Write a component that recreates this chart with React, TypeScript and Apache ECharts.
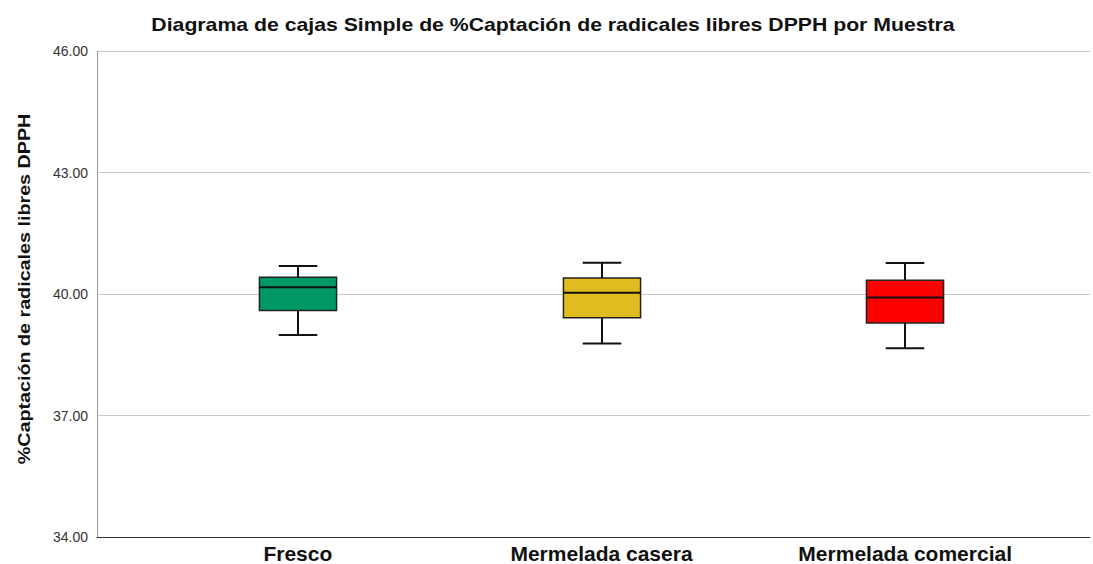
import React, { useEffect, useRef } from 'react';
import * as echarts from 'echarts';

const categories = ['Fresco', 'Mermelada casera', 'Mermelada comercial'];
const minValues = [38.93, 38.72, 38.6];
const q1Values = [39.54, 39.36, 39.23];
const medianValues = [40.12, 39.98, 39.86];
const q3Values = [40.37, 40.35, 40.29];
const maxValues = [40.65, 40.73, 40.72];
const boxColors = ['#009966', '#e0bc1f', '#ff0000'];
const yMin = 34;
const yMax = 46;
const yInterval = 3;
const titleText = 'Diagrama de cajas Simple de %Captación de radicales libres DPPH por Muestra';
const yAxisTitle = '%Captación de radicales libres DPPH';

const FONT = '"Liberation Sans", Arial, sans-serif';

export default function App() {
  const ref = useRef<HTMLDivElement>(null);
  useEffect(() => {
    if (!ref.current) return;
    const chart = echarts.init(ref.current, null, { renderer: 'svg' });
    const data = categories.map((_, i) => [i, minValues[i], q1Values[i], medianValues[i], q3Values[i], maxValues[i]]);
    chart.setOption({
      animation: false,
      backgroundColor: '#ffffff',
      textStyle: { fontFamily: FONT },
      graphic: [
        {
          type: 'text',
          x: 553,
          y: 25,
          scaleX: 1.18,
          style: {
            text: titleText,
            fontFamily: FONT,
            fontSize: 18,
            fontWeight: 'bold',
            fill: '#111',
            align: 'center',
            verticalAlign: 'middle',
          },
        },
        {
          type: 'text',
          x: 24,
          y: 289,
          rotation: Math.PI / 2,
          scaleX: 1.16,
          style: {
            text: yAxisTitle,
            fontFamily: FONT,
            fontSize: 17,
            fontWeight: 'bold',
            fill: '#111',
            align: 'center',
            verticalAlign: 'middle',
          },
        },
      ],
      grid: [
        { left: 97, right: 3, top: 51, bottom: 27 },
        { left: 146, width: 911, top: 51, bottom: 27 },
      ],
      xAxis: [
        {
          type: 'value', gridIndex: 0, min: 0, max: 1,
          axisLine: { show: true, lineStyle: { color: '#333', width: 1 } },
          axisLabel: { show: false }, axisTick: { show: false }, splitLine: { show: false },
        },
        {
          type: 'category', gridIndex: 1, data: categories,
          axisLine: { show: false }, axisTick: { show: false },
          axisLabel: { fontFamily: FONT, fontSize: 21, fontWeight: 'bold', color: '#111', margin: 10 },
        },
      ],
      yAxis: [
        {
          type: 'value', gridIndex: 0, min: yMin, max: yMax, interval: yInterval,
          axisLine: { show: true, lineStyle: { color: '#999', width: 1 } },
          axisTick: { show: false },
          axisLabel: { formatter: (v: number) => v.toFixed(2), fontFamily: FONT, fontSize: 14, color: '#333', margin: 9 },
          splitLine: { show: true, lineStyle: { color: '#c8c8c8', width: 1 } },
        },
        {
          type: 'value', gridIndex: 1, min: yMin, max: yMax, interval: yInterval,
          show: false, splitLine: { show: false },
        },
      ],
      series: [
        {
          type: 'custom',
          xAxisIndex: 1,
          yAxisIndex: 1,
          data,
          renderItem: (params: any, api: any) => {
            const x = api.value(0);
            const lo = api.coord([x, api.value(1)]);
            const q1 = api.coord([x, api.value(2)]);
            const med = api.coord([x, api.value(3)]);
            const q3 = api.coord([x, api.value(4)]);
            const hi = api.coord([x, api.value(5)]);
            const band = api.size([1, 0])[0];
            const bw = band * 0.254;
            const cw = bw / 2;
            const cx = Math.round(lo[0]);
            const color = boxColors[params.dataIndex];
            const lineStyle = { stroke: '#111', lineWidth: 2 };
            return {
              type: 'group',
              children: [
                { type: 'line', shape: { x1: cx, y1: hi[1], x2: cx, y2: q3[1] }, style: lineStyle },
                { type: 'line', shape: { x1: cx, y1: q1[1], x2: cx, y2: lo[1] }, style: lineStyle },
                { type: 'line', shape: { x1: cx - cw / 2, y1: hi[1], x2: cx + cw / 2, y2: hi[1] }, style: lineStyle },
                { type: 'line', shape: { x1: cx - cw / 2, y1: lo[1], x2: cx + cw / 2, y2: lo[1] }, style: lineStyle },
                {
                  type: 'rect',
                  shape: { x: cx - bw / 2, y: q3[1], width: bw, height: q1[1] - q3[1] },
                  style: { fill: color, stroke: '#222', lineWidth: 1.5 },
                },
                { type: 'line', shape: { x1: cx - bw / 2, y1: med[1], x2: cx + bw / 2, y2: med[1] }, style: lineStyle },
              ],
            };
          },
        },
      ],
    });
    return () => chart.dispose();
  }, []);
  return <div ref={ref} style={{ position: 'fixed', left: 0, top: 0, width: 1093, height: 564 }} />;
}
